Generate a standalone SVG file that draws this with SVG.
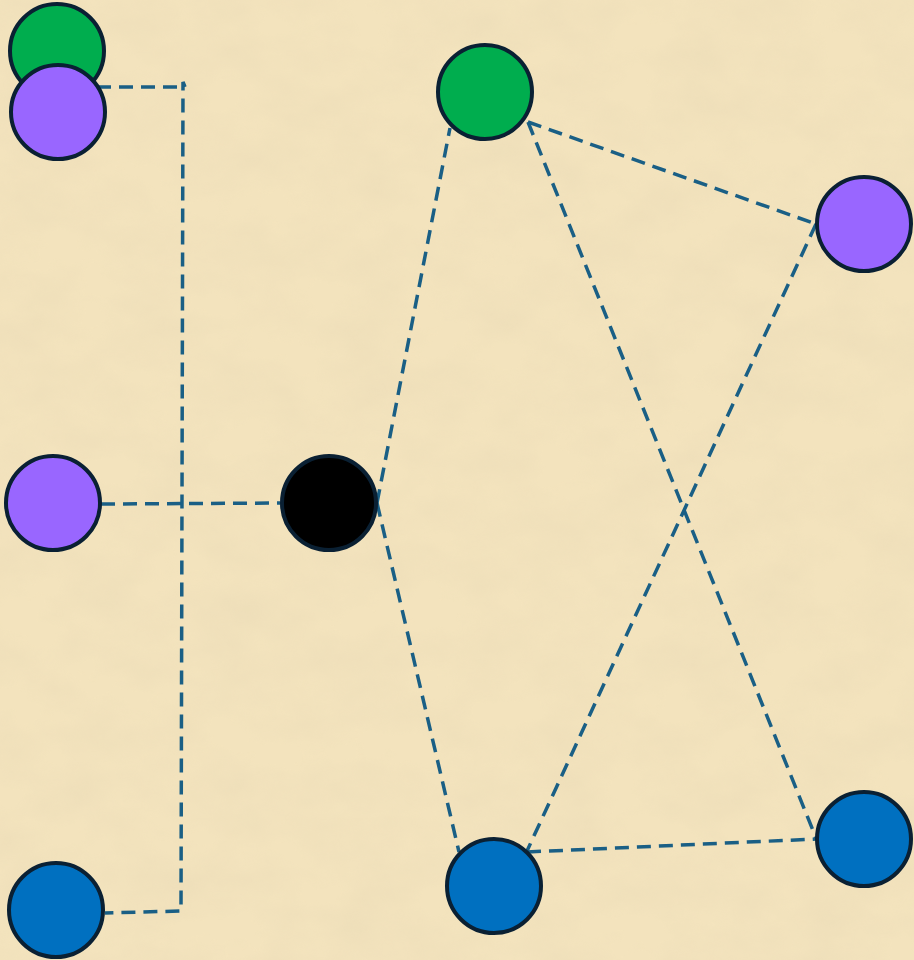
<svg xmlns="http://www.w3.org/2000/svg" width="914" height="960" viewBox="0 0 914 960">
<defs>
<filter id="parch" x="0" y="0" width="100%" height="100%">
<feTurbulence type="fractalNoise" baseFrequency="0.015 0.022" numOctaves="4" seed="7" result="n"/>
<feColorMatrix in="n" type="matrix" values="0 0 0 0 0.84  0 0 0 0 0.72  0 0 0 0 0.48  1.8 0 0 0 -0.62" result="c"/>
<feComposite in="c" in2="SourceGraphic" operator="in"/>
</filter>
<style>
.n{stroke:#0a2033;stroke-width:4}
.e{fill:none;stroke:#1a5f85;stroke-width:3.5;stroke-dasharray:14 8}
</style>
</defs>
<rect width="914" height="960" fill="#f3e3bd"/>
<rect width="914" height="960" fill="#f3e3bd" filter="url(#parch)" opacity="0.65"/>
<g id="connectors">
<polyline class="e" points="97,87 185,87 183,82 181,911 105,913"/>
<polyline class="e" points="101,504 280,503"/>
<polyline class="e" points="377,503 450,128"/>
<polyline class="e" points="377,503 459,852"/>
<polyline class="e" points="528,122 816,224"/>
<polyline class="e" points="528,122 816,838"/>
<polyline class="e" points="816,224 527,851"/>
<polyline class="e" points="527,852 816,839"/>
</g>
<g id="n-green-tl"><circle class="n" cx="57" cy="51" r="47" fill="#00ad4e"/></g>
<g id="n-purple-tl"><circle class="n" cx="58" cy="112" r="47" fill="#9966ff"/></g>
<g id="n-purple-ml"><circle class="n" cx="53" cy="503" r="47" fill="#9966ff"/></g>
<g id="n-blue-bl"><circle class="n" cx="56" cy="910" r="47" fill="#0070c0"/></g>
<g id="n-black"><circle class="n" cx="329" cy="503" r="47" fill="#000000"/></g>
<g id="n-green-top"><circle class="n" cx="485" cy="92" r="47" fill="#00ad4e"/></g>
<g id="n-purple-r"><circle class="n" cx="864" cy="224" r="47" fill="#9966ff"/></g>
<g id="n-blue-bm"><circle class="n" cx="494" cy="886" r="47" fill="#0070c0"/></g>
<g id="n-blue-r"><circle class="n" cx="864" cy="839" r="47" fill="#0070c0"/></g>
</svg>
